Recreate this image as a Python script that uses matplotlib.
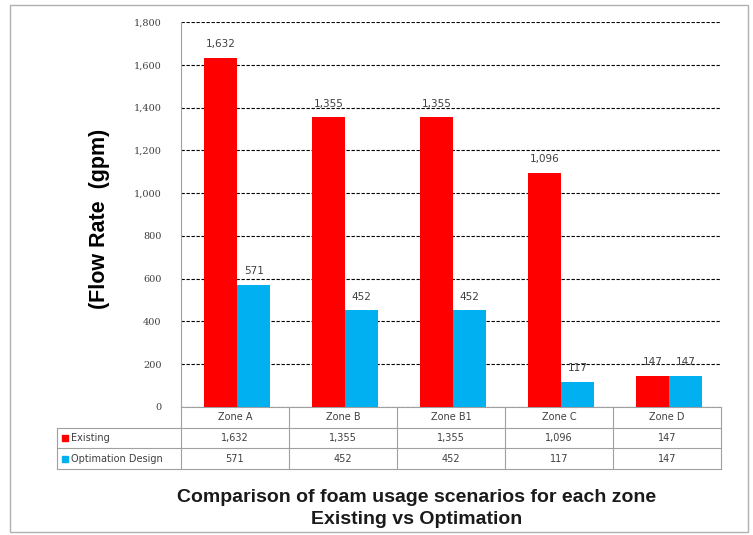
import matplotlib.pyplot as plt
import matplotlib.transforms as mtransforms
from matplotlib.patches import Rectangle
import numpy as np

zones = ['Zone A', 'Zone B', 'Zone B1', 'Zone C', 'Zone D']
existing = [1632, 1355, 1355, 1096, 147]
optimation = [571, 452, 452, 117, 147]
series_names = ['Existing', 'Optimation Design']
red = '#ff0000'
blue = '#00b0f0'

W, H = 753, 535
fig = plt.figure(figsize=(W / 100, H / 100), dpi=100)
ax = fig.add_axes([181 / W, 1 - 407 / H, 540 / W, 385 / H])

x = np.arange(len(zones))
bw = 0.305
ax.bar(x - bw / 2 + 0.02, existing, bw, color=red, zorder=3)
ax.bar(x + bw / 2 + 0.02, optimation, bw, color=blue, zorder=3)

for xi, v in zip(x - bw / 2 + 0.02, existing):
    ax.text(xi, v + 40, f'{v:,}', ha='center', va='bottom', fontsize=7.5, color='#404040', zorder=4)
for xi, v in zip(x + bw / 2 + 0.02, optimation):
    ax.text(xi, v + 40, f'{v:,}', ha='center', va='bottom', fontsize=7.5, color='#404040', zorder=4)

ax.set_xlim(-0.5, len(zones) - 0.5)
ax.set_ylim(0, 1800)
ax.set_yticks(range(0, 1801, 200))
ax.set_yticklabels([f'{t:,}' for t in range(0, 1801, 200)], fontsize=7, color='#404040', family='DejaVu Serif')
ax.tick_params(axis='y', length=0, pad=14)
ax.set_xticks([])
ax.yaxis.grid(True, linestyle=(0, (3, 1.5)), color='black', linewidth=0.8, zorder=0)
for s in ['top', 'right', 'bottom']:
    ax.spines[s].set_visible(False)
ax.spines['left'].set_color('#a0a0a0')

# data table under the bars: x in data units, y in axes fraction
tr = mtransforms.blended_transform_factory(ax.transData, ax.transAxes)
row_h = 62 / 385 / 3
left = -0.5 - 124 / 108
right = len(zones) - 0.5
edge = dict(color='#a0a0a0', lw=0.8, transform=tr, clip_on=False)
# horizontal lines
ax.plot([-0.5, right], [0, 0], **edge)
for k in (1, 2, 3):
    ax.plot([left, right], [-k * row_h, -k * row_h], **edge)
# vertical lines
ax.plot([left, left], [-row_h, -3 * row_h], **edge)
for b in np.arange(-0.5, right + 0.01, 1.0):
    ax.plot([b, b], [0, -3 * row_h], **edge)

txt = dict(transform=tr, ha='center', va='center', fontsize=7, color='#404040', clip_on=False)
for xi, z in zip(x, zones):
    ax.text(xi, -0.5 * row_h, z, **txt)
for xi, v in zip(x, existing):
    ax.text(xi, -1.5 * row_h, f'{v:,}', **txt)
for xi, v in zip(x, optimation):
    ax.text(xi, -2.5 * row_h, f'{v:,}', **txt)
for k, (name, col) in enumerate(zip(series_names, [red, blue])):
    yk = -(1.5 + k) * row_h
    ax.text(left + 0.13, yk, name, transform=tr, ha='left', va='center', fontsize=7,
            color='#404040', clip_on=False)
    ax.plot([left + 0.07], [yk], marker='s', markersize=5, color=col, transform=tr, clip_on=False)

fig.text(100 / W, 1 - 219 / H, '(Flow Rate  (gpm)', rotation=90, ha='center', va='center',
         fontsize=15.5, fontweight='bold', family='Liberation Sans')
fig.text(417 / W, 1 - 497 / H, 'Comparison of foam usage scenarios for each zone',
         ha='center', va='center', fontsize=14, fontweight='bold', color='#1a1a1a', family='Liberation Sans')
fig.text(417 / W, 1 - 519 / H, 'Existing vs Optimation',
         ha='center', va='center', fontsize=14, fontweight='bold', color='#1a1a1a', family='Liberation Sans')

fig.patches.append(Rectangle((10 / W, 3 / H), 738 / W, 527 / H, fill=False, edgecolor='#b0b0b0',
                             linewidth=1, transform=fig.transFigure))

fig.savefig('out.png', dpi=100)
